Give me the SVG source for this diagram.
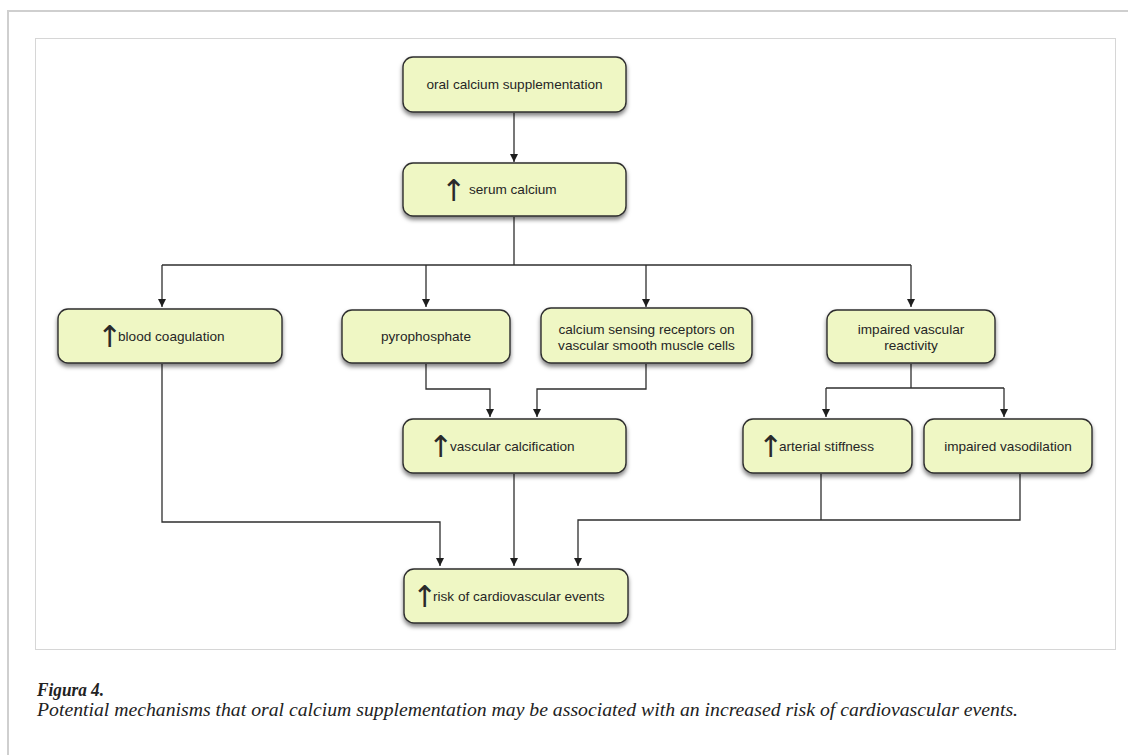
<svg xmlns="http://www.w3.org/2000/svg" width="1128" height="755" viewBox="0 0 1128 755">
<defs>
<style>
.box{fill:#eff7c4;stroke:#2e2e2e;stroke-width:1.4}
.t{font-family:"Liberation Sans",Arial,sans-serif;font-size:13.6px;fill:#262626}
.up{font-family:"DejaVu Sans",sans-serif;font-size:30px;fill:#2a2a2a}
.c{fill:none;stroke:#2e2e2e;stroke-width:1.3}
.cap{font-family:"Liberation Serif",serif;font-style:italic;fill:#222}
</style>
<marker id="ah" viewBox="0 0 10 10" refX="10" refY="5" markerWidth="8" markerHeight="8" markerUnits="userSpaceOnUse" orient="auto">
<path d="M0,0 L10,5 L0,10 Z" fill="#1e1e1e"/>
</marker>
<filter id="sh" x="-10%" y="-20%" width="120%" height="150%">
<feDropShadow dx="0" dy="3" stdDeviation="2.2" flood-color="#000" flood-opacity="0.5"/>
</filter>
</defs>
<rect width="1128" height="755" fill="#fff"/>
<path d="M8,755 V11 H1128" fill="none" stroke="#cfcfcf" stroke-width="2"/>
<rect x="35.5" y="38.5" width="1080" height="611" fill="#fff" stroke="#d6d6d6" stroke-width="1"/>

<g id="connectors">
<line class="c" x1="514" y1="113" x2="514" y2="162" marker-end="url(#ah)"/>
<path class="c" d="M514,217 V265"/>
<path class="c" d="M162,265 H911"/>
<line class="c" x1="162" y1="265" x2="162" y2="307" marker-end="url(#ah)"/>
<line class="c" x1="426" y1="265" x2="426" y2="307" marker-end="url(#ah)"/>
<line class="c" x1="646" y1="265" x2="646" y2="307" marker-end="url(#ah)"/>
<line class="c" x1="911" y1="265" x2="911" y2="307" marker-end="url(#ah)"/>
<path class="c" d="M426,364 V389 H490 V417" marker-end="url(#ah)"/>
<path class="c" d="M646,364 V389 H537 V417" marker-end="url(#ah)"/>
<path class="c" d="M911,364 V388"/>
<path class="c" d="M826,388 H1004"/>
<line class="c" x1="826" y1="388" x2="826" y2="417" marker-end="url(#ah)"/>
<line class="c" x1="1004" y1="388" x2="1004" y2="417" marker-end="url(#ah)"/>
<path class="c" d="M162,364 V522 H440 V566" marker-end="url(#ah)"/>
<line class="c" x1="514" y1="474" x2="514" y2="566" marker-end="url(#ah)"/>
<path class="c" d="M821,474 V520"/>
<path class="c" d="M1020,474 V520 H578 V566" marker-end="url(#ah)"/>
</g>

<g id="n1"><rect class="box" filter="url(#sh)" x="403" y="57" width="223" height="55" rx="10"/>
<text class="t" x="514.5" y="89" text-anchor="middle">oral calcium supplementation</text></g>

<g id="n2"><rect class="box" filter="url(#sh)" x="403" y="163" width="223" height="53" rx="10"/>
<text class="up" x="441" y="201">↑</text>
<text class="t" x="469" y="194">serum calcium</text></g>

<g id="n3"><rect class="box" filter="url(#sh)" x="58" y="309" width="224" height="54" rx="10"/>
<text class="up" x="97" y="347">↑</text>
<text class="t" x="118" y="341">blood coagulation</text></g>

<g id="n4"><rect class="box" filter="url(#sh)" x="342" y="310" width="168" height="53" rx="10"/>
<text class="t" x="426" y="341" text-anchor="middle">pyrophosphate</text></g>

<g id="n5"><rect class="box" filter="url(#sh)" x="541" y="308" width="211" height="55" rx="10"/>
<text class="t" x="646.5" y="334" text-anchor="middle">calcium sensing receptors on</text>
<text class="t" x="646.5" y="350" text-anchor="middle">vascular smooth muscle cells</text></g>

<g id="n6"><rect class="box" filter="url(#sh)" x="827" y="310" width="168" height="53" rx="10"/>
<text class="t" x="911" y="334" text-anchor="middle">impaired vascular</text>
<text class="t" x="911" y="350" text-anchor="middle">reactivity</text></g>

<g id="n7"><rect class="box" filter="url(#sh)" x="403" y="419" width="223" height="54" rx="10"/>
<text class="up" x="428" y="457">↑</text>
<text class="t" x="450" y="451">vascular calcification</text></g>

<g id="n8"><rect class="box" filter="url(#sh)" x="743" y="419" width="169" height="54" rx="10"/>
<text class="up" x="758" y="457">↑</text>
<text class="t" x="779" y="451">arterial stiffness</text></g>

<g id="n9"><rect class="box" filter="url(#sh)" x="924" y="419" width="168" height="54" rx="10"/>
<text class="t" x="1008" y="451" text-anchor="middle">impaired vasodilation</text></g>

<g id="n10"><rect class="box" filter="url(#sh)" x="404" y="569" width="224" height="54" rx="10"/>
<text class="up" x="412" y="607">↑</text>
<text class="t" x="433" y="601">risk of cardiovascular events</text></g>

<text class="cap" x="37" y="696" font-size="19" font-weight="bold" textLength="67" lengthAdjust="spacingAndGlyphs">Figura 4.</text>
<text class="cap" x="37" y="716" font-size="19" textLength="981" lengthAdjust="spacingAndGlyphs">Potential mechanisms that oral calcium supplementation may be associated with an increased risk of cardiovascular events.</text>
</svg>
